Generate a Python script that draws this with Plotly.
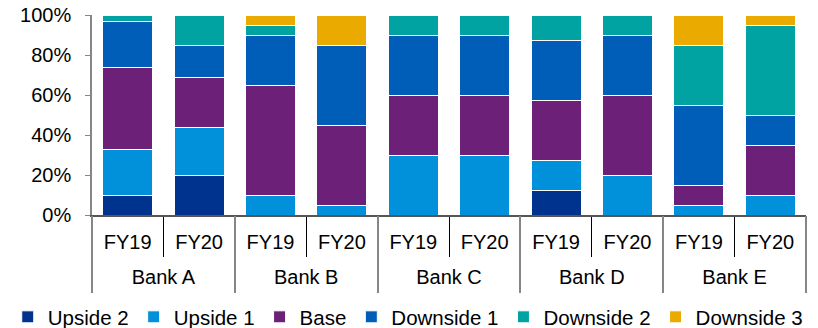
import plotly.graph_objects as go

# Scenario weightings (% of total) by bank and financial year
banks = ["Bank A", "Bank B", "Bank C", "Bank D", "Bank E"]
years = ["FY19", "FY20"]

upside_2 = [10, 20, 0, 0, 0, 0, 12.5, 0, 0, 0]
upside_1 = [23, 24, 10, 5, 30, 30, 15, 20, 5, 10]
base = [41, 25, 55, 40, 30, 30, 30, 40, 10, 25]
downside_1 = [23, 16, 25, 40, 30, 30, 30, 30, 40, 15]
downside_2 = [3, 15, 5, 0, 10, 10, 12.5, 10, 30, 45]
downside_3 = [0, 0, 5, 15, 0, 0, 0, 0, 15, 5]

y_ticks = [0, 20, 40, 60, 80, 100]
y_tick_labels = [f"{v}%" for v in y_ticks]

series = [
    ("Upside 2", upside_2, "#00338D"),
    ("Upside 1", upside_1, "#0091DA"),
    ("Base", base, "#6D2077"),
    ("Downside 1", downside_1, "#005EB8"),
    ("Downside 2", downside_2, "#00A3A1"),
    ("Downside 3", downside_3, "#EAAA00"),
]

# one category per bank/year pair; the year is shown on the inner axis,
# the bank on a second axis sharing the same baseline
keys = [f"{b} {y}" for b in banks for y in years]
year_labels = [y for _ in banks for y in years]

fig = go.Figure()
for name, vals, color in series:
    fig.add_trace(go.Bar(
        x=keys,
        y=vals,
        name=name,
        marker=dict(color=color, line=dict(color="white", width=1)),
    ))

# empty trace that attaches the bank-level axis to the plot
fig.add_trace(go.Scatter(
    x=banks,
    y=[None] * len(banks),
    xaxis="x2",
    yaxis="y",
    mode="markers",
    showlegend=False,
    hoverinfo="skip",
))

font = dict(family="Liberation Sans, Arial, sans-serif", size=20, color="#000000")

fig.update_layout(
    barmode="stack",
    bargap=0.3,
    width=818,
    height=328,
    margin=dict(l=92, r=12, t=15, b=113, autoexpand=False),
    paper_bgcolor="white",
    plot_bgcolor="white",
    font=font,
    showlegend=True,
    legend=dict(
        orientation="h",
        traceorder="normal",
        x=-0.118, xanchor="left",
        y=-0.41, yanchor="top",
        font=dict(size=20.5),
        itemwidth=30,
        tracegroupgap=0,
    ),
)

fig.update_yaxes(
    range=[0, 100],
    tickvals=y_ticks,
    ticktext=y_tick_labels,
    showgrid=False,
    zeroline=False,
    showline=True,
    linecolor="#868686",
    linewidth=1.5,
    ticks="outside",
    ticklen=5,
    tickcolor="#868686",
    ticklabelstandoff=10,
)

fig.update_layout(
    xaxis=dict(
        type="category",
        tickmode="array",
        tickvals=keys,
        ticktext=year_labels,
        range=[-0.5, len(keys) - 0.5],
        showgrid=False,
        showline=True,
        linecolor="#555555",
        linewidth=1.5,
        ticks="outside",
        tickson="boundaries",
        ticklen=40,
        tickwidth=1.2,
        tickcolor="#000000",
        ticklabelstandoff=8,
    ),
    xaxis2=dict(
        type="category",
        overlaying="x",
        anchor="y",
        side="bottom",
        categoryorder="array",
        categoryarray=banks,
        range=[-0.5, len(banks) - 0.5],
        showgrid=False,
        showline=False,
        zeroline=False,
        ticks="outside",
        tickson="boundaries",
        ticklen=77,
        tickwidth=1.5,
        tickcolor="#868686",
        ticklabelstandoff=48,
        tickfont=dict(size=20),
    ),
)

fig.write_html("out.html")
